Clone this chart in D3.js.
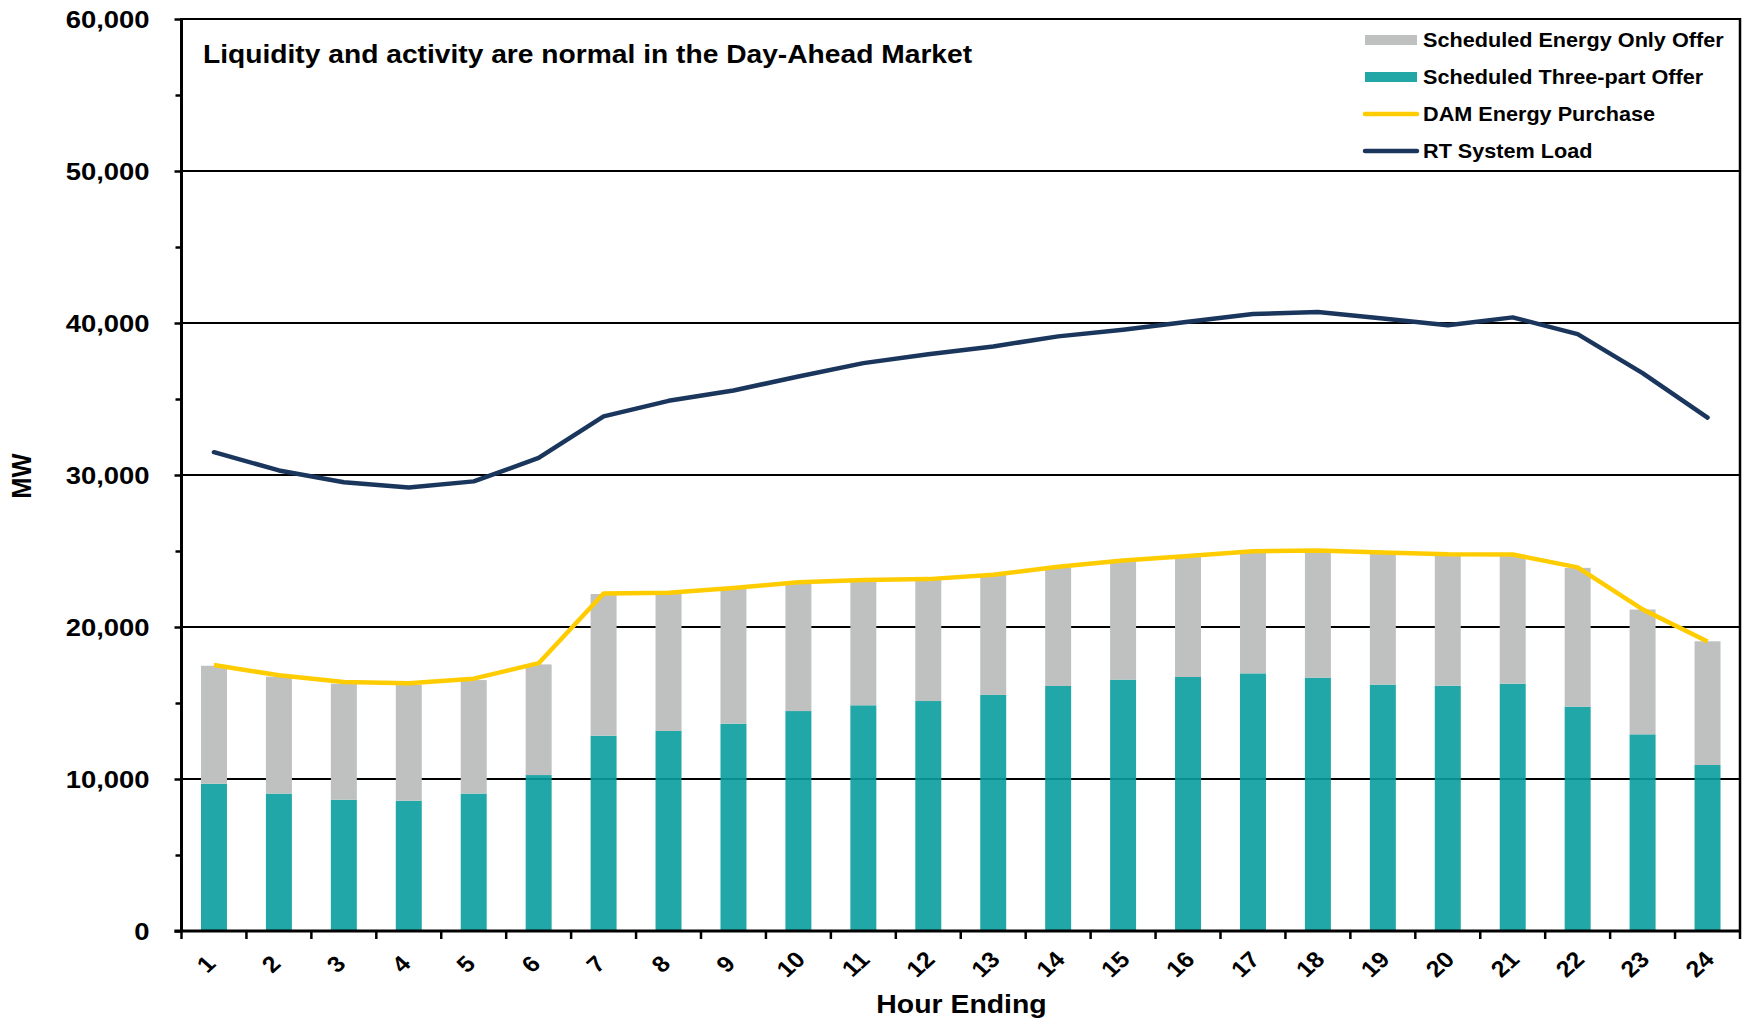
<!DOCTYPE html>
<html>
<head>
<meta charset="utf-8">
<script src="https://cdn.jsdelivr.net/npm/d3@7"></script>
<style>
  html, body { margin: 0; padding: 0; background: #fff; }
  svg { display: block; font-family: "Liberation Sans", Arial, sans-serif; font-weight: bold; }
</style>
</head>
<body>
<div id="chart"></div>
<script>
/* <!-- Data --> */
var hours = ["1", "2", "3", "4", "5", "6", "7", "8", "9", "10", "11", "12",
  "13", "14", "15", "16", "17", "18", "19", "20", "21", "22", "23", "24"];
var threePartOffer = [9690, 9040, 8640, 8570, 9040, 10260, 12850, 13160, 13640, 14470, 14850, 15130,
  15530, 16120, 16540, 16710, 16950, 16670, 16210, 16140, 16270, 14760, 12940, 10920];
var energyOnlyOffer = [7760, 7690, 7630, 7630, 7470, 7280, 9320, 9040, 8960, 8530, 8300, 8090,
  7910, 7780, 7790, 7890, 8050, 8310, 8650, 8610, 8480, 9130, 8210, 8140];
var damPurchase = [17500, 16820, 16380, 16300, 16600, 17620, 22200, 22260, 22560, 22950, 23100, 23150,
  23440, 23960, 24370, 24670, 24980, 25030, 24900, 24780, 24770, 23920, 21160, 19040];
var rtLoad = [31500, 30300, 29520, 29180, 29580, 31120, 33860, 34880, 35560, 36480, 37360, 37950,
  38460, 39120, 39560, 40080, 40590, 40730, 40290, 39850, 40370, 39270, 36700, 33780];
var yTicks = [0, 10000, 20000, 30000, 40000, 50000, 60000];
var yMinorTicks = [5000, 15000, 25000, 35000, 45000, 55000];
var legendItems = [
  {name: "Scheduled Energy Only Offer", type: "rect", color: "#bfc1c0"},
  {name: "Scheduled Three-part Offer", type: "rect", color: "#22a6a6"},
  {name: "DAM Energy Purchase", type: "line", color: "#ffcc00"},
  {name: "RT System Load", type: "line", color: "#1b365d"}
];
var title = "Liquidity and activity are normal in the Day-Ahead Market";

/* <!-- Layout --> */
var W = 1746, H = 1020, SX = 1.11,
  m = {left: 181.5, right: 1740, top: 19, bottom: 931};

var svg = d3.select("#chart").append("svg")
  .attr("width", W).attr("height", H).attr("viewBox", `0 0 ${W} ${H}`);

/* <!-- text is a little wide in the original, stretch it horizontally --> */
var label = (g, tx, ty, rot, size, anchor, txt) => g.append("text")
  .attr("transform", `translate(${tx},${ty}) scale(${SX},1)` + (rot ? ` rotate(${rot})` : ""))
  .attr("text-anchor", anchor).attr("font-size", size).text(txt);

var x = d3.scaleBand().domain(hours).range([m.left, m.right]).paddingInner(0.6).paddingOuter(0.3),
  xb = d3.scaleBand().domain(hours).range([m.left, m.right]),
  y = d3.scaleLinear().domain([0, 60000]).range([m.bottom, m.top]);

/* <!-- Gridlines --> */
svg.append("g").selectAll("line").data(yTicks.filter(d => d > 0)).enter()
  .append("line")
  .attr("x1", m.left).attr("x2", m.right)
  .attr("y1", d => y(d)).attr("y2", d => y(d))
  .attr("stroke", "#000").attr("stroke-width", 2);

/* <!-- Stacked bars --> */
var table = hours.map((h, i) => ({hour: h, three: threePartOffer[i], energy: energyOnlyOffer[i]}));
var stack = d3.stack().keys(["three", "energy"])(table);
var fills = {three: "rgb(9,157,157)", energy: "#bfc1c0"},
  opac = {three: 0.9, energy: 1};

svg.append("g").selectAll("g").data(stack).enter()
  .append("g")
  .attr("fill", d => fills[d.key])
  .attr("fill-opacity", d => opac[d.key])
  .selectAll("rect").data(d => d).enter()
  .append("rect")
  .attr("x", d => x(d.data.hour))
  .attr("width", x.bandwidth())
  .attr("y", d => y(d[1]))
  .attr("height", d => y(d[0]) - y(d[1]));

/* <!-- Lines --> */
var line = vals => d3.line()
  .x((d, i) => x(hours[i]) + x.bandwidth() / 2)
  .y(d => y(d))(vals);

svg.append("path").attr("d", line(damPurchase))
  .attr("fill", "none").attr("stroke", "#ffcc00").attr("stroke-width", 4.5)
  .attr("stroke-linejoin", "round");
svg.append("path").attr("d", line(rtLoad))
  .attr("fill", "none").attr("stroke", "#1b365d").attr("stroke-width", 4.5)
  .attr("stroke-linejoin", "round").attr("stroke-linecap", "round");

/* <!-- Y axis --> */
svg.append("g").attr("transform", `translate(${m.left},0)`)
  .call(d3.axisLeft(y).tickValues(yTicks).tickSize(7).tickFormat(""))
  .select(".domain").remove();
svg.append("g").attr("transform", `translate(${m.left},0)`)
  .call(d3.axisLeft(y).tickValues(yMinorTicks).tickSize(6).tickFormat(""))
  .select(".domain").remove();
svg.selectAll(".tick line").attr("stroke", "#000").attr("stroke-width", 2.5);
var yl = svg.append("g");
yTicks.forEach(d => label(yl, 149.5, y(d) + 9, 0, 24.7, "end", d3.format(",")(d)));
svg.append("line").attr("x1", m.left).attr("x2", m.left).attr("y1", m.top - 1).attr("y2", m.bottom)
  .attr("stroke", "#000").attr("stroke-width", 3);

/* <!-- Right border --> */
svg.append("line").attr("x1", m.right).attr("x2", m.right).attr("y1", m.top - 1).attr("y2", m.bottom + 8)
  .attr("stroke", "#000").attr("stroke-width", 2.5);

/* <!-- X axis --> */
var xg = svg.append("g");
xg.append("line").attr("x1", m.left - 7).attr("x2", m.right).attr("y1", m.bottom).attr("y2", m.bottom)
  .attr("stroke", "#000").attr("stroke-width", 3);
xg.selectAll(".xt").data(hours).enter().append("line")
  .attr("x1", d => xb(d)).attr("x2", d => xb(d))
  .attr("y1", m.bottom).attr("y2", m.bottom + 8)
  .attr("stroke", "#000").attr("stroke-width", 2.5);
hours.forEach(d => label(xg, xb(d) + xb.bandwidth() / 2 - 8, m.bottom + 33, -45, 22.5, "middle", d)
  .attr("dominant-baseline", "central"));

/* <!-- Axis titles --> */
label(svg, 961.5, 1013, 0, 25.6, "middle", "Hour Ending");
label(svg, 22, 476, -90, 25.5, "middle", "MW").attr("dominant-baseline", "central");

/* <!-- Title --> */
label(svg, 203, 63, 0, 25.4, "start", title);

/* <!-- Legend --> */
var lg = svg.append("g").selectAll("g").data(legendItems).enter()
  .append("g").attr("transform", (d, i) => `translate(1365,${40 + i * 37})`);
lg.filter(d => d.type === "rect").append("rect")
  .attr("x", 0).attr("y", -5).attr("width", 52).attr("height", 10).attr("fill", d => d.color);
lg.filter(d => d.type === "line").append("line")
  .attr("x1", 0).attr("x2", 52).attr("y1", 0).attr("y2", 0)
  .attr("stroke", d => d.color).attr("stroke-width", 4.5).attr("stroke-linecap", "round");
lg.each(function(d) {
  label(d3.select(this), 58, 0, 0, 19.5, "start", d.name).attr("dominant-baseline", "central");
});
</script>
</body>
</html>
